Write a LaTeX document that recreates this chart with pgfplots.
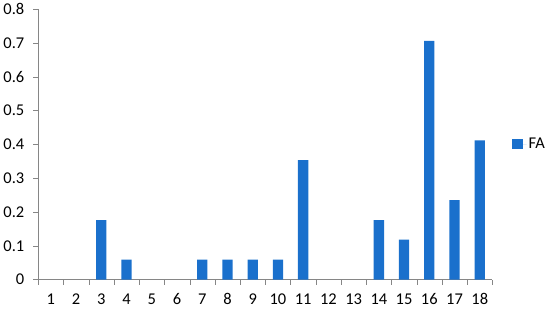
\documentclass[border=0pt]{standalone}
\usepackage{pgfplots}
\pgfplotsset{compat=1.18}
\usepackage{fontspec}
\setmainfont{Carlito}
\definecolor{barblue}{RGB}{26,112,204}
\definecolor{axgray}{RGB}{134,134,134}
\begin{document}
\begin{tikzpicture}
\begin{axis}[
    scale only axis,
    width=440bp, height=262bp,
    ybar, bar width=10bp,
    xmin=0.5, xmax=18.5,
    ymin=0, ymax=0.8,
    axis lines*=left,
    axis line style={axgray},
    xtick={1,...,18},
    minor xtick={0.5,1.5,...,18.5},
    ytick={0,0.1,...,0.8},
    tick align=outside,
    major tick length=5bp,
    minor tick length=5bp,
    x tick style={draw=none},
    minor x tick style={draw=axgray},
    y tick style={axgray},
    /pgf/number format/fixed,
    /pgf/number format/assume math mode=true,
    tick label style={font=\fontsize{16}{19}\selectfont, black},
    yticklabel style={xshift=-5bp},
    xticklabel style={yshift=-5bp},
    legend style={draw=none, at={(1,0.5)}, anchor=west, xshift=16bp,
        font=\fontsize{16}{19}\selectfont,
        legend cell align=left},
    legend image code/.code={\fill[barblue] (0bp,-5bp) rectangle (10bp,5bp);
        \path (0bp,0bp) -- (14bp,0bp);},
]
% categories 1, 2, 5, 6, 12 and 13 are zero
\addplot[fill=barblue, draw=none] coordinates {
    (3,0.176) (4,0.059) (7,0.059) (8,0.059) (9,0.059)
    (10,0.059) (11,0.353) (14,0.176) (15,0.118) (16,0.706)
    (17,0.235) (18,0.412)
};
\addlegendentry{FA}
\end{axis}
\end{tikzpicture}
\end{document}
